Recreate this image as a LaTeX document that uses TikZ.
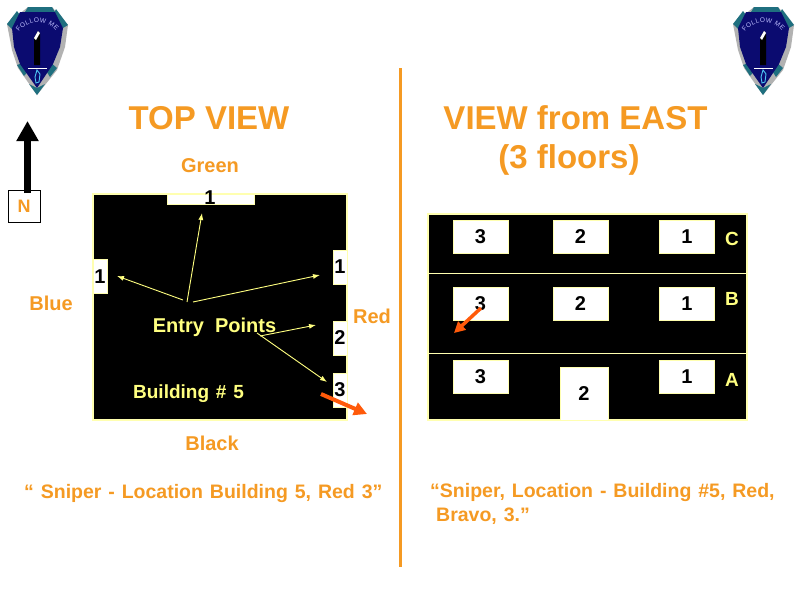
\documentclass[tikz,border=0pt]{standalone}
\usepackage{fontspec}
\setmainfont{Liberation Sans}
\usetikzlibrary{arrows.meta,decorations.text}
\definecolor{lbl}{HTML}{F59A23}
\definecolor{pale}{HTML}{FFFF80}
\definecolor{edgey}{HTML}{FFFFB0}
\definecolor{hot}{HTML}{FF5A0A}
\definecolor{navy}{HTML}{0B0B70}
\definecolor{steel}{HTML}{1F6F7F}
\newcommand{\fs}[1]{\fontsize{#1}{#1}\selectfont\bfseries}
\newcommand{\gap}[1]{\spaceskip=#1pt\relax}
\tikzset{
 x=1pt,y=-1pt,
 title/.style={text=lbl,font=\fs{33},inner sep=0pt},
 side/.style={text=lbl,font=\fs{20},inner sep=0pt},
 quoted/.style={text=lbl,font=\fs{19.5},inner sep=0pt},
 inlabel/.style={text=pale,font=\fs{20},inner sep=0pt},
 floorlbl/.style={text=pale,font=\fs{19},inner sep=0pt},
 block/.style={fill=black,draw=edgey,line width=1.1pt},
 door/.style={fill=white,draw=edgey,line width=.7pt,inner sep=0pt,text=black,font=\fs{20}},
 win/.style={door,minimum width=55pt,minimum height=33pt},
 vdoor/.style={door,minimum width=14pt,minimum height=34pt},
 entry/.style={draw=pale,line width=.9pt,-{Latex[length=7pt,width=5pt]}},
 hotarrow/.style={draw=hot,line width=4pt,-{Triangle[length=13pt,width=13pt]}},
 shield/.pic={
  \fill[gray!60] (7,24)--(12,50)--(18,68)--(37,95)--(57,70)--(65,47)--(68,25)--(52,7)--(28,7)--cycle;
  \fill[steel] (28,7)--(52,7)--(55,12)--(25,12)--cycle;
  \fill[steel] (7,24)--(17,11)--(20,15)--(12,29)--cycle;
  \fill[steel] (68,25)--(56,9)--(54,13)--(63,28)--cycle;
  \fill[steel] (17,65)--(25,62)--(30,69)--(24,76)--cycle;
  \fill[steel] (57,68)--(50,62)--(45,69)--(50,77)--cycle;
  \fill[steel] (37,95)--(29,84)--(37,88)--(45,84)--cycle;
  \fill[navy] (20,12)--(55,12)--(63,28)--(60,47)--(53,64)--(37,88)--(20,64)--(14,47)--(12,28)--cycle;
  \path[postaction={decorate,decoration={text along path,text align={fit to path},
    text={|\fontsize{6.5}{6.5}\selectfont\color{white!75!blue}|FOLLOW ME}}}]
    (19,32) .. controls (27,20) and (47,19) .. (56,31);
  \fill[black] (34,38)--(38,31)--(40,33)--(40,65)--(34,65)--cycle;
  \fill[white] (34,38)--(38,31)--(40,33)--(36,40)--cycle;
  \draw[white,line width=.9pt] (28,68)--(47,68);
  \draw[cyan!70!white,line width=.9pt] (37,70)--(35,77)--(36,83)--(39,82)--(40,74)--cycle;
 }
}
\begin{document}
\begin{tikzpicture}
\useasboundingbox (0,0) rectangle (800,600);
\fill[white] (0,0) rectangle (800,600);

\pic at (0,0) {shield};
\pic at (726,0) {shield};

% north arrow
\coordinate (ntip) at (27.5,121);
\node[draw=black,line width=.6pt,fill=white,minimum size=32pt,inner sep=0pt,text=lbl,font=\fs{18}] (north) at (24,206.5) {N};
\draw[line width=7pt,-{Triangle[length=20pt,width=21pt]}] (27.5,193) -- (ntip);

% divider
\coordinate (divtop) at (400.5,68);
\coordinate (divbot) at (400.5,567);
\draw[lbl,line width=3pt] (divtop) -- (divbot);

% titles
\node[title] (ttop) at (209,118) {TOP VIEW};
\node[title] (teast) at (575.5,118) {VIEW from EAST};
\node[title] (tfloors) at (569,159.5) {(3 floors)};
\node[side] (green) at (210,166) {Green};
\node[side] (blue) at (51,303) {Blue};
\node[side] (red) at (372,316) {Red};
\node[side] (blk) at (212,443) {Black};

% top view building
\node[block,minimum width=254pt,minimum height=226pt,inner sep=0pt] (bldg) at (220,307) {};
\node[door,minimum width=87pt,minimum height=10pt] (dtop) at (210.5,199) {};
\node[text=black,font=\fs{20},inner sep=0pt] (dtopl) at (210,198) {1};
\node[vdoor] (dleft) at (100,276.5) {1};
\node[vdoor] (dr1) at (340,267) {1};
\node[vdoor] (dr2) at (340,338) {2};
\node[vdoor] (dr3) at (340,390) {3};

\node[inlabel] (ep) at (214.5,327) {\gap{11}Entry Points};
\node[inlabel,font=\fs{19}] (b5) at (188.5,394) {\gap{6.8}Building \# 5};

\coordinate (e1) at (183,300);
\coordinate (e2) at (187,302);
\coordinate (e3) at (193,302);
\coordinate (e4) at (260,336);
\coordinate (e5) at (257,333);
\coordinate (t1) at (117,276);
\coordinate (t2) at (202,213);
\coordinate (t3) at (320,275);
\coordinate (t4) at (316,325);
\coordinate (t5) at (327,382);
\draw[entry] (e1) -- (t1);
\draw[entry] (e2) -- (t2);
\draw[entry] (e3) -- (t3);
\draw[entry] (e4) -- (t4);
\draw[entry] (e5) -- (t5);

\coordinate (s1) at (321,394);
\coordinate (s2) at (367,414);
\draw[hotarrow] (s1) -- (s2);

% east view
\node[block,minimum width=319pt,minimum height=206pt,inner sep=0pt] (east) at (587.5,317) {};
\coordinate (l1a) at (428,273);
\coordinate (l1b) at (747,273);
\coordinate (l2a) at (428,353);
\coordinate (l2b) at (747,353);
\draw[edgey,line width=.9pt] (l1a) -- (l1b);
\draw[edgey,line width=.9pt] (l2a) -- (l2b);

\node[win] (c3) at (480.5,236.5) {3};
\node[win] (c2) at (580.5,236.5) {2};
\node[win] (c1) at (687,236.5) {1};
\node[win] (b3) at (480.5,303.5) {3};
\node[win] (b2) at (580.5,303.5) {2};
\node[win] (b1) at (687,303.5) {1};
\node[win] (a3) at (480.5,376.5) {3};
\node[door,minimum width=48pt,minimum height=53pt] (a2) at (584,393.5) {2};
\node[win] (a1) at (687,376.5) {1};
\node[floorlbl] (fc) at (732,239) {C};
\node[floorlbl] (fb) at (732,299) {B};
\node[floorlbl] (fa) at (732,380) {A};

\coordinate (s3) at (481,308);
\coordinate (s4) at (454,333);
\draw[hotarrow,line width=3.5pt,-{Triangle[length=11pt,width=11pt]}] (s3) -- (s4);

% quotes
\node[quoted,anchor=west] (q1) at (24,493) {\gap{6.9}“ Sniper - Location Building 5, Red 3”};
\node[quoted,anchor=west] (q2) at (430,492) {\gap{6.9}“Sniper, Location - Building \#5, Red,};
\node[quoted,anchor=west] (q3) at (436,516) {\gap{6.9}Bravo, 3.”};
\end{tikzpicture}
\end{document}
